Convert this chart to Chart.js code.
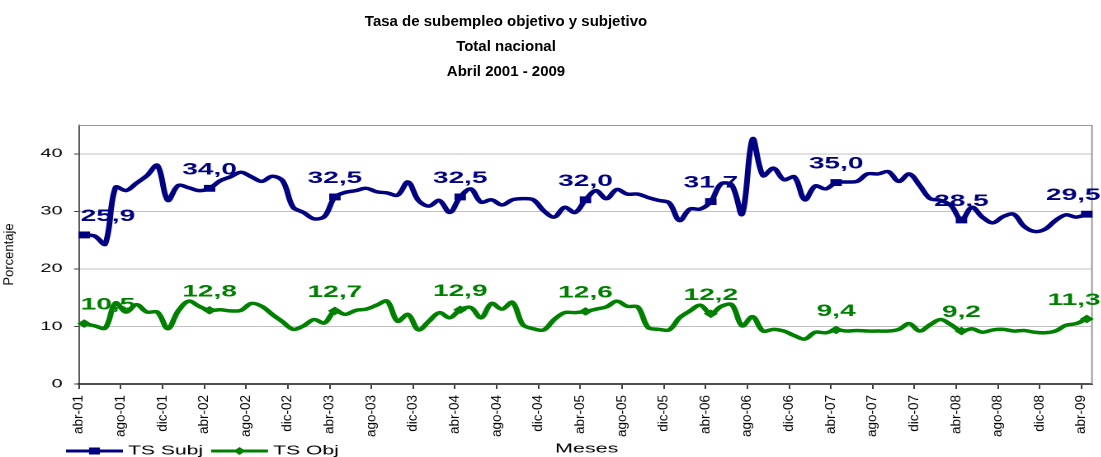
<!DOCTYPE html>
<html>
<head>
<meta charset="utf-8">
<script src="https://cdn.jsdelivr.net/npm/chart.js@4.4.1/dist/chart.umd.min.js"></script>
<style>
  html, body { margin: 0; padding: 0; background: #fff; }
  #marco { position: relative; width: 1101px; height: 457px; overflow: hidden; }
  #titulo { position: absolute; top: 8px; left: 0; width: 1012px; text-align: center;
    font: bold 15px "Liberation Sans", Arial, sans-serif; line-height: 25px; color: #000; z-index: 2; }
  #lienzo { position: absolute; top: 0; left: 0; width: 667px; height: 457px;
    transform: scaleX(1.65); transform-origin: 0 0; }
</style>
</head>
<body>
<div id="marco">
  <div id="titulo">Tasa de subempleo objetivo y subjetivo<br>Total nacional<br>Abril 2001 - 2009</div>
  <div id="lienzo"><canvas id="chart" width="667" height="457"></canvas></div>
</div>
<script>
// Datos mensuales abr-01 .. abr-09
const meses = ["ene", "feb", "mar", "abr", "may", "jun", "jul", "ago", "sep", "oct", "nov", "dic"];
const anios = ["01", "02", "03", "04", "05", "06", "07", "08", "09"];

const tsSubj = [
  25.9, 25.7, 24.3, 34.2, 33.6, 34.9, 36.2, 38.0, 31.9, 34.5, 34.1, 33.6,
  34.0, 35.3, 36.0, 36.8, 36.0, 35.2, 36.1, 35.3, 30.7, 29.8, 28.7, 29.1,
  32.5, 33.3, 33.6, 34.0, 33.4, 33.2, 32.8, 35.1, 31.9, 30.9, 31.9, 29.8,
  32.5, 33.9, 31.6, 32.0, 31.1, 32.0, 32.2, 32.0, 30.1, 29.0, 30.7, 29.8,
  32.0, 33.6, 32.2, 33.8, 33.0, 33.0, 32.4, 31.9, 31.5, 28.4, 30.4, 30.4,
  31.7, 34.8, 34.6, 29.5, 42.6, 36.2, 37.5, 35.5, 36.0, 32.0, 34.4, 33.9,
  35.0, 35.1, 35.2, 36.5, 36.5, 36.9, 35.2, 36.5, 34.5, 32.2, 31.9, 31.0,
  28.5, 30.7, 29.0, 28.0, 29.1, 29.5, 27.4, 26.5, 26.9, 28.4, 29.4, 29.0,
  29.5
];

const tsObj = [
  10.5, 10.1, 9.7, 14.1, 12.5, 13.8, 12.5, 12.5, 9.6, 12.7, 14.4, 13.5,
  12.8, 12.9, 12.7, 12.8, 14.0, 13.5, 12.1, 10.8, 9.5, 10.1, 11.2, 10.6,
  12.7, 12.1, 12.8, 13.0, 13.7, 14.4, 10.9, 12.1, 9.4, 10.9, 12.4, 11.5,
  12.9, 13.3, 11.5, 14.0, 13.0, 14.2, 10.3, 9.6, 9.4, 11.2, 12.4, 12.4,
  12.6, 13.0, 13.4, 14.4, 13.5, 13.4, 9.8, 9.5, 9.4, 11.5, 12.7, 13.7,
  12.2, 13.5, 13.8, 10.1, 11.7, 9.2, 9.5, 9.2, 8.4, 7.8, 9.0, 8.9,
  9.4, 9.2, 9.3, 9.2, 9.2, 9.2, 9.5, 10.5, 9.2, 10.3, 11.2, 10.3,
  9.2, 9.6, 9.0, 9.4, 9.5, 9.2, 9.3, 9.0, 8.9, 9.2, 10.2, 10.5,
  11.3
];

const categorias = [];
anios.forEach((a, k) => {
  meses.forEach((m, j) => {
    if ((k === 0 && j < 3) || (k === anios.length - 1 && j > 3)) return;
    categorias.push(m + "-" + a);
  });
});

const ticksY = [0, 10, 20, 30, 40];

const S = 1.65; // estiramiento horizontal del original
const fuente = "'Liberation Sans', Arial, sans-serif";
const azul = "#000080";
const verde = "#008000";

function formato(v) {
  return v.toFixed(1).replace(".", ",");
}

const extras = {
  id: "extras",
  beforeDatasetsDraw(chart) {
    const { ctx, chartArea: a } = chart;
    ctx.save();
    ctx.strokeStyle = "#9a9a9a";
    ctx.lineWidth = 1;
    ctx.beginPath();
    ctx.moveTo(a.left, a.top + 0.5);
    ctx.lineTo(a.right, a.top + 0.5);
    ctx.lineTo(a.right, a.bottom);
    ctx.stroke();
    ctx.restore();
  },
  afterDatasetsDraw(chart) {
    const { ctx, chartArea: a } = chart;
    ctx.save();
    ctx.font = "bold 17px " + fuente;
    ctx.textBaseline = "alphabetic";
    ctx.textAlign = "center";
    chart.data.datasets.forEach((ds, d) => {
      const meta = chart.getDatasetMeta(d);
      ctx.fillStyle = ds.borderColor;
      ds.data.forEach((v, i) => {
        if (i % 12 !== 0) return;
        const p = meta.data[i];
        const txt = formato(v);
        const w = ctx.measureText(txt).width;
        let x = p.x;
        if (x - w / 2 < a.left + 1) x = a.left + 1 + w / 2;
        if (x + w / 2 > chart.width) x = chart.width - w / 2;
        ctx.fillText(txt, x, p.y - 14);
      });
    });
    ctx.restore();
  },
  afterDraw(chart) {
    const { ctx, chartArea: a } = chart;
    const xs = chart.scales.x;
    ctx.save();
    ctx.fillStyle = "#000";

    // etiquetas del eje X (giradas, sin estirar)
    ctx.font = "13.5px " + fuente;
    ctx.textAlign = "right";
    ctx.textBaseline = "middle";
    chart.data.labels.forEach((lbl, i) => {
      if (i % 4 !== 0) return;
      const x = xs.getPixelForValue(i - 0.5);
      ctx.save();
      ctx.translate(x, a.bottom + 11);
      ctx.scale(1 / S, 1);
      ctx.rotate(-Math.PI / 2);
      ctx.fillText(lbl, 0, 0);
      ctx.restore();
    });

    // titulo eje Y
    ctx.save();
    ctx.font = "13px " + fuente;
    ctx.textAlign = "center";
    ctx.translate(6, (a.top + a.bottom) / 2);
    ctx.scale(1 / S, 1);
    ctx.rotate(-Math.PI / 2);
    ctx.fillText("Porcentaje", 0, 0);
    ctx.restore();

    // titulo eje X
    ctx.font = "13px " + fuente;
    ctx.textAlign = "left";
    ctx.fillText("Meses", 336.4, 449);

    // leyenda
    const yl = 451;
    const items = [
      { ds: chart.data.datasets[0], x0: 40, x1: 74.5, tx: 77.6 },
      { ds: chart.data.datasets[1], x0: 127.9, x1: 162.4, tx: 165.5 }
    ];
    items.forEach((it, k) => {
      const c = it.ds.borderColor;
      ctx.strokeStyle = c;
      ctx.fillStyle = c;
      ctx.lineWidth = 3;
      ctx.beginPath();
      ctx.moveTo(it.x0, yl);
      ctx.lineTo(it.x1, yl);
      ctx.stroke();
      const mx = (it.x0 + it.x1) / 2;
      ctx.beginPath();
      if (k === 0) {
        ctx.rect(mx - 3.3, yl - 3.5, 6.6, 7);
      } else {
        ctx.moveTo(mx - 3.6, yl);
        ctx.lineTo(mx, yl - 4);
        ctx.lineTo(mx + 3.6, yl);
        ctx.lineTo(mx, yl + 4);
        ctx.closePath();
      }
      ctx.fill();
      ctx.fillStyle = "#000";
      ctx.font = "12.8px " + fuente;
      ctx.textAlign = "left";
      ctx.textBaseline = "middle";
      ctx.fillText(it.ds.label, it.tx, yl);
    });
    ctx.restore();
  }
};

new Chart(document.getElementById("chart").getContext("2d"), {
  type: "line",
  data: {
    labels: categorias,
    datasets: [
      {
        label: "TS Subj",
        data: tsSubj,
        borderColor: azul,
        backgroundColor: azul,
        borderWidth: 3.5,
        tension: 0.35,
        pointStyle: "rect",
        pointRadius: c => (c.dataIndex % 12 === 0 ? 4.2 : 0),
        pointBorderWidth: 1,
        pointHoverRadius: 0
      },
      {
        label: "TS Obj",
        data: tsObj,
        borderColor: verde,
        backgroundColor: verde,
        borderWidth: 3.5,
        tension: 0.35,
        pointStyle: "rectRot",
        pointRadius: c => (c.dataIndex % 12 === 0 ? 3.6 : 0),
        pointBorderWidth: 1,
        pointHoverRadius: 0
      }
    ]
  },
  options: {
    responsive: false,
    animation: false,
    devicePixelRatio: 2,
    events: [],
    layout: { padding: { top: 125, right: 1.5, left: 0, bottom: 0 } },
    plugins: {
      legend: { display: false },
      tooltip: { enabled: false },
      title: { display: false }
    },
    scales: {
      x: {
        type: "category",
        offset: true,
        grid: {
          offset: true,
          drawOnChartArea: false,
          drawTicks: true,
          tickLength: 5,
          tickWidth: 1,
          tickColor: c => (c.index % 4 === 0 ? "#404040" : "rgba(0,0,0,0)")
        },
        border: { color: "#505050", width: 2 },
        ticks: { display: false, autoSkip: false },
        afterFit: s => { s.height = 73; }
      },
      y: {
        min: 0,
        max: 45,
        afterBuildTicks: s => { s.ticks = ticksY.map(v => ({ value: v })); },
        ticks: { color: "#000", padding: 7, font: { family: fuente, size: 12 } },
        grid: { color: "#c0c0c0", tickColor: "#404040", tickLength: 3, lineWidth: 1 },
        border: { color: "#303030", width: 0.8 },
        afterFit: s => { s.width = 47.9; }
      }
    }
  },
  plugins: [extras]
});
</script>
</body>
</html>
